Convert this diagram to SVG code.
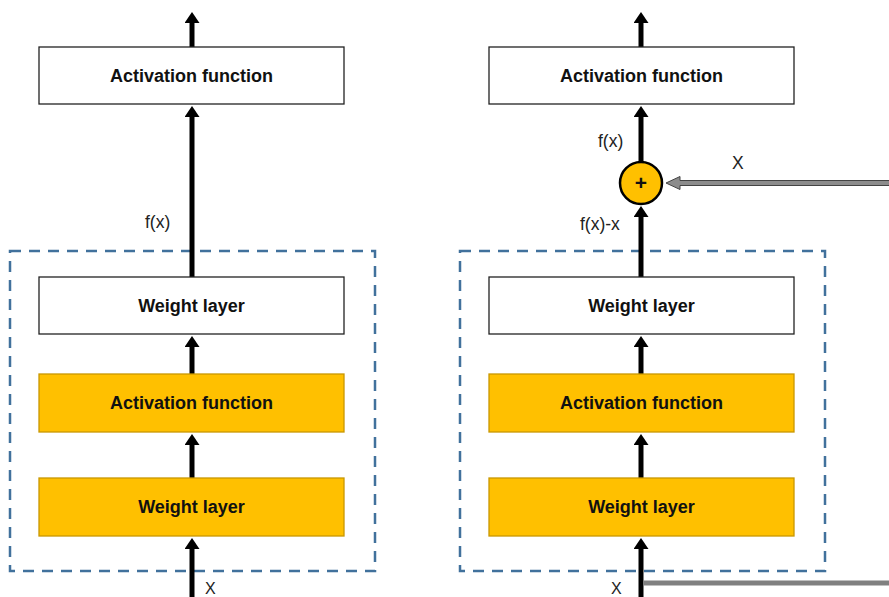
<svg xmlns="http://www.w3.org/2000/svg" width="889" height="597" viewBox="0 0 889 597">
<style>
.box{fill:#fff;stroke:#222;stroke-width:1.3}
.obox{fill:#FFC000;stroke:#C99700;stroke-width:1.3}
.bt{font-family:"Liberation Sans",Arial,sans-serif;font-weight:bold;font-size:18px;fill:#111;text-anchor:middle}
.lb{font-family:"Liberation Sans",Arial,sans-serif;font-size:17.5px;fill:#222}
.dash{fill:none;stroke:#41719C;stroke-width:2.5;stroke-dasharray:11 8}
.ar{stroke:#000;stroke-width:5;fill:none;marker-end:url(#ah)}
</style>
<defs>
<marker id="ah" markerWidth="3" markerHeight="3" refX="1" refY="1.5" orient="auto" markerUnits="strokeWidth" viewBox="0 0 3 3">
<path d="M0,0 L2.2,1.5 L0,3 Z" fill="#000"/>
</marker>
</defs>
<g id="dashed-left"><rect class="dash" x="10" y="251" width="365" height="320"/></g>
<g id="dashed-right"><rect class="dash" x="460" y="251" width="365" height="320"/></g>
<g id="connectors">
<line class="ar" x1="192" y1="597" x2="192" y2="544"/>
<line class="ar" x1="192" y1="478" x2="192" y2="440"/>
<line class="ar" x1="192" y1="374" x2="192" y2="342"/>
<line class="ar" x1="192" y1="277" x2="192" y2="112"/>
<line class="ar" x1="192" y1="47" x2="192" y2="18"/>
<line class="ar" x1="641" y1="597" x2="641" y2="544"/>
<line class="ar" x1="641" y1="478" x2="641" y2="440"/>
<line class="ar" x1="641" y1="374" x2="641" y2="342"/>
<line class="ar" x1="641" y1="277" x2="641" y2="212"/>
<line class="ar" x1="641" y1="162" x2="641" y2="112"/>
<line class="ar" x1="641" y1="47" x2="641" y2="18"/>
<line x1="644" y1="583" x2="889" y2="583" stroke="#808080" stroke-width="5"/>
<path d="M889,180.5 L680,180.5 L680,176.5 L666,183 L680,189.5 L680,185.5 L889,185.5" fill="#8c8c8c" stroke="#444" stroke-width="1"/>
</g>
<g id="left-act-top"><rect class="box" x="39" y="47" width="305" height="57"/><text class="bt" x="191.5" y="82">Activation function</text></g>
<g id="left-weight-1"><rect class="box" x="39" y="277" width="305" height="57"/><text class="bt" x="191.5" y="312">Weight layer</text></g>
<g id="left-act"><rect class="obox" x="39" y="374" width="305" height="58"/><text class="bt" x="191.5" y="409">Activation function</text></g>
<g id="left-weight-2"><rect class="obox" x="39" y="478" width="305" height="58"/><text class="bt" x="191.5" y="513">Weight layer</text></g>
<g id="right-act-top"><rect class="box" x="489" y="47" width="305" height="57"/><text class="bt" x="641.5" y="82">Activation function</text></g>
<g id="right-weight-1"><rect class="box" x="489" y="277" width="305" height="57"/><text class="bt" x="641.5" y="312">Weight layer</text></g>
<g id="right-act"><rect class="obox" x="489" y="374" width="305" height="58"/><text class="bt" x="641.5" y="409">Activation function</text></g>
<g id="right-weight-2"><rect class="obox" x="489" y="478" width="305" height="58"/><text class="bt" x="641.5" y="513">Weight layer</text></g>
<g id="plus"><circle cx="641" cy="183" r="21" fill="#FFC000" stroke="#000" stroke-width="2.5"/><text class="bt" x="641" y="190" style="font-size:21px">+</text></g>
<g id="labels">
<text class="lb" x="145" y="228">f(x)</text>
<text class="lb" x="205" y="594" style="font-size:16px">X</text>
<text class="lb" x="598" y="147">f(x)</text>
<text class="lb" x="732" y="169">X</text>
<text class="lb" x="580" y="230">f(x)-x</text>
<text class="lb" x="611" y="594" style="font-size:16px">X</text>
</g>
</svg>
